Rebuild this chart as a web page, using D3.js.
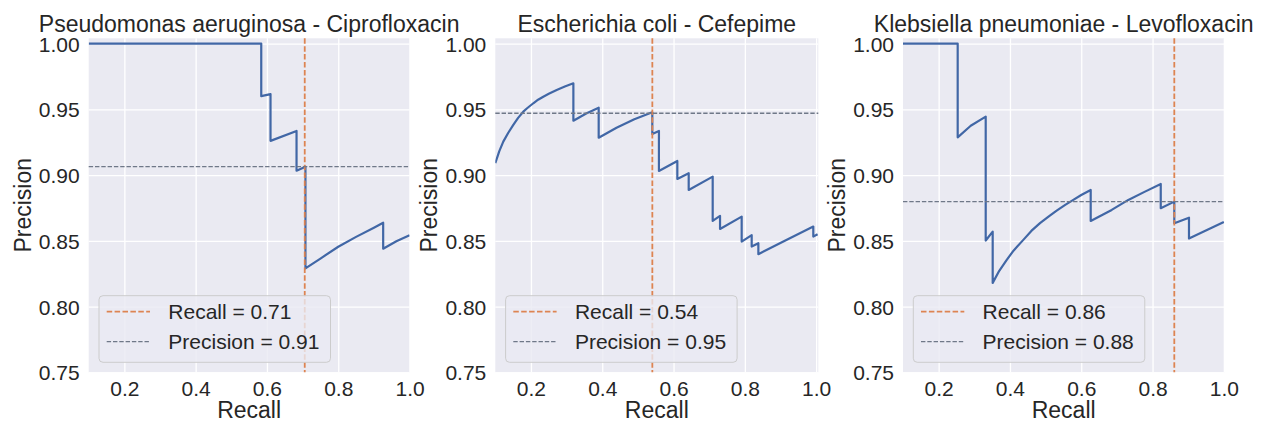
<!DOCTYPE html>
<html>
<head>
<meta charset="utf-8">
<script src="https://cdn.jsdelivr.net/npm/d3@7"></script>
<style>
  body { margin: 0; background: #ffffff; }
  text { font-family: "Liberation Sans", Arial, sans-serif; fill: #262626; }
</style>
</head>
<body>
<div id="chart"></div>
<script>
// values
const titles = ["Pseudomonas aeruginosa - Ciprofloxacin", "Escherichia coli - Cefepime", "Klebsiella pneumoniae - Levofloxacin"]

const recall_pa = [0.10, 0.584, 0.584, 0.610, 0.610, 0.683, 0.683, 0.708, 0.708, 0.75, 0.80, 0.85, 0.90, 0.926, 0.926, 0.963, 1.0]
const precision_pa = [1.00, 1.00, 0.960, 0.9616, 0.926, 0.9335, 0.9033, 0.9064, 0.829, 0.8365, 0.8455, 0.853, 0.860, 0.8638, 0.844, 0.8496, 0.8543]

const recall_ec = [0.10, 0.111, 0.1224, 0.136, 0.1505, 0.164, 0.1785, 0.19, 0.2066, 0.22, 0.2346, 0.25, 0.2722, 0.295, 0.319, 0.319, 0.355, 0.390, 0.390, 0.44, 0.49, 0.5404, 0.5404, 0.559, 0.559, 0.6106, 0.6106, 0.6425, 0.6425, 0.7098, 0.7098, 0.7304, 0.7304, 0.7911, 0.7911, 0.8192, 0.8192, 0.8379, 0.8379, 0.915, 0.992, 0.992, 1.004]
const precision_ec = [0.909, 0.918, 0.9254, 0.932, 0.9381, 0.9435, 0.9482, 0.951, 0.9546, 0.9573, 0.9596, 0.9618, 0.9647, 0.9673, 0.9698, 0.9413, 0.9468, 0.9512, 0.9284, 0.936, 0.9425, 0.9477, 0.9312, 0.9335, 0.9031, 0.9107, 0.897, 0.9014, 0.8887, 0.8988, 0.8651, 0.8689, 0.859, 0.8684, 0.8494, 0.8543, 0.8456, 0.8482, 0.8398, 0.8505, 0.8608, 0.8532, 0.855]

const recall_kp = [0.10, 0.2534, 0.2534, 0.29, 0.332, 0.332, 0.3516, 0.3516, 0.37, 0.391, 0.41, 0.4375, 0.46, 0.4843, 0.51, 0.5311, 0.555, 0.5777, 0.60, 0.6265, 0.6265, 0.6854, 0.732, 0.7788, 0.823, 0.823, 0.861, 0.861, 0.9022, 0.9022, 1.0]
const precision_kp = [1.0, 1.0, 0.9287, 0.9375, 0.9444, 0.8502, 0.857, 0.818, 0.8272, 0.8355, 0.8425, 0.8507, 0.8575, 0.8634, 0.8688, 0.873, 0.8773, 0.8811, 0.8848, 0.8887, 0.8651, 0.8735, 0.8811, 0.8874, 0.8932, 0.8748, 0.8798, 0.8634, 0.8676, 0.8517, 0.8643]

const recall_marks = [0.706, 0.5405, 0.861]
const precision_marks = [0.9064, 0.947, 0.8798]
const recall_labels = ["Recall = 0.71", "Recall = 0.54", "Recall = 0.86"]
const precision_labels = ["Precision = 0.91", "Precision = 0.95", "Precision = 0.88"]

const x_ticks = [0.2, 0.4, 0.6, 0.8, 1.0]
const y_ticks = [0.75, 0.80, 0.85, 0.90, 0.95, 1.00]
const x_max = [1.0, 1.006, 1.0013]

const recalls = [recall_pa, recall_ec, recall_kp]
const precisions = [precision_pa, precision_ec, precision_kp]

const svg_width = 1262, svg_height = 423
const panel_left = [88.7, 495.3, 903]
const px_per_unit = 356.5
const plot_top = 38.3, plot_bottom = 372.3

const svg = d3.select("#chart")
    .append("svg")
    .attr("width", svg_width)
    .attr("height", svg_height)

svg.append("rect")
    .attr("width", svg_width)
    .attr("height", svg_height)
    .attr("fill", "#ffffff")

function draw_panel(i) {
    const left = panel_left[i]
    const width = (x_max[i] - 0.1) * px_per_unit
    const height = plot_bottom - plot_top

    const x = d3.scaleLinear().domain([0.1, x_max[i]]).range([0, width])
    const y = d3.scaleLinear().domain([0.75, 1.004]).range([height, 0])

    let g = svg.append("g")
        .attr("transform", "translate(" + left + "," + plot_top + ")")

    g.append("rect")
        .attr("width", width)
        .attr("height", height)
        .attr("fill", "#eaeaf2")

    // grid
    g.append("g")
        .attr("class", "grid")
        .call(d3.axisBottom(x).tickValues(x_ticks).tickSize(height).tickFormat(""))
        .call(a => a.select(".domain").remove())
        .call(a => a.selectAll("line").attr("stroke", "#ffffff").attr("stroke-width", 1.3))
    g.append("g")
        .attr("class", "grid")
        .call(d3.axisLeft(y).tickValues(y_ticks).tickSize(-width).tickFormat(""))
        .call(a => a.select(".domain").remove())
        .call(a => a.selectAll("line").attr("stroke", "#ffffff").attr("stroke-width", 1.3))

    // tick labels
    g.append("g")
        .attr("transform", "translate(0," + height + ")")
        .call(d3.axisBottom(x).tickValues(x_ticks).tickSize(0).tickPadding(10).tickFormat(d3.format(".1f")))
        .call(a => a.select(".domain").remove())
        .call(a => a.selectAll("text")
            .attr("y", 23.7).attr("dy", null)
            .style("font-size", "21px").style("fill", "#262626"))
    g.append("g")
        .call(d3.axisLeft(y).tickValues(y_ticks).tickSize(0).tickPadding(9).tickFormat(d3.format(".2f")))
        .call(a => a.select(".domain").remove())
        .call(a => a.selectAll("text")
            .attr("dy", "0.36em")
            .style("font-size", "21px").style("fill", "#262626"))

    // clip for curve
    g.append("clipPath")
        .attr("id", "clip" + i)
        .append("rect")
        .attr("width", width)
        .attr("height", height)

    const pts = recalls[i].map((r, k) => ({r: r, p: precisions[i][k]}))

    g.append("path")
        .datum(pts)
        .attr("clip-path", "url(#clip" + i + ")")
        .attr("fill", "none")
        .attr("stroke", "#4167a6")
        .attr("stroke-width", 2.2)
        .attr("stroke-linejoin", "round")
        .attr("d", d3.line()
            .x(function (d) { return x(d.r) })
            .y(function (d) { return y(d.p) })
        )

    // threshold lines
    g.append("line")
        .attr("x1", x(recall_marks[i])).attr("x2", x(recall_marks[i]))
        .attr("y1", 0).attr("y2", height)
        .attr("stroke", "#dd8452")
        .attr("stroke-width", 1.8)
        .attr("stroke-dasharray", "5.5,2.4")
    g.append("line")
        .attr("x1", 0).attr("x2", width)
        .attr("y1", y(precision_marks[i])).attr("y2", y(precision_marks[i]))
        .attr("stroke", "#6f7888")
        .attr("stroke-width", 1.3)
        .attr("stroke-dasharray", "4.4,1.9")

    // legend
    let legend = g.append("g")
        .attr("transform", "translate(10.3," + (295.7 - plot_top) + ")")
    let box = legend.append("rect")
        .attr("height", 66.6)
        .attr("rx", 4)
        .attr("fill", "#eaeaf2")
        .attr("fill-opacity", 0.8)
        .attr("stroke", "#cccccc")
        .attr("stroke-width", 1)
    legend.append("line")
        .attr("x1", 7.7).attr("x2", 51)
        .attr("y1", 16).attr("y2", 16)
        .attr("stroke", "#dd8452").attr("stroke-width", 1.8)
        .attr("stroke-dasharray", "5.5,2.4")
    legend.append("line")
        .attr("x1", 7.7).attr("x2", 51)
        .attr("y1", 46).attr("y2", 46)
        .attr("stroke", "#6f7888").attr("stroke-width", 1.3)
        .attr("stroke-dasharray", "4.4,1.9")
    let t1 = legend.append("text")
        .attr("x", 69.3).attr("y", 23.6)
        .style("font-size", "21px")
        .text(recall_labels[i])
    let t2 = legend.append("text")
        .attr("x", 69.3).attr("y", 53.6)
        .style("font-size", "21px")
        .text(precision_labels[i])
    const tw = Math.max(t1.node().getComputedTextLength(), t2.node().getComputedTextLength())
    box.attr("width", 69.3 + tw + 11)

    // labels
    g.append("text")
        .attr("x", width / 2).attr("y", 418.5 - plot_top)
        .attr("text-anchor", "middle")
        .style("font-size", "23px")
        .text("Recall")
    g.append("text")
        .attr("transform", "translate(-58," + height / 2 + ") rotate(-90)")
        .attr("text-anchor", "middle")
        .style("font-size", "23px")
        .text("Precision")
    g.append("text")
        .attr("x", width / 2).attr("y", 31.7 - plot_top)
        .attr("text-anchor", "middle")
        .style("font-size", "23px")
        .text(titles[i])
}

for (let i = 0; i < 3; i++) {
    draw_panel(i)
}
</script>
</body>
</html>
